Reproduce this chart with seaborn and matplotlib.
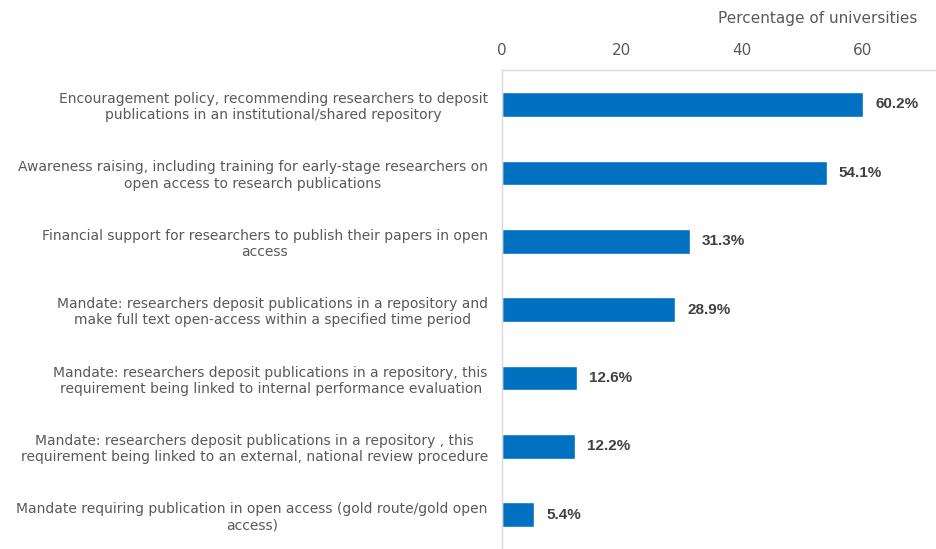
import matplotlib.pyplot as plt
import seaborn as sns
import pandas as pd

# data
categories = [
    "Encouragement policy, recommending researchers to deposit\npublications in an institutional/shared repository",
    "Awareness raising, including training for early-stage researchers on\nopen access to research publications",
    "Financial support for researchers to publish their papers in open\naccess",
    "Mandate: researchers deposit publications in a repository and\nmake full text open-access within a specified time period",
    "Mandate: researchers deposit publications in a repository, this\nrequirement being linked to internal performance evaluation",
    "Mandate: researchers deposit publications in a repository , this\nrequirement being linked to an external, national review procedure",
    "Mandate requiring publication in open access (gold route/gold open\naccess)",
]
values = [60.2, 54.1, 31.3, 28.9, 12.6, 12.2, 5.4]
ticks = [0, 20, 40, 60]

df = pd.DataFrame({"category": categories, "pct": values})

sns.set_style("white")
plt.rcParams["font.family"] = ["DejaVu Sans"]

fig = plt.figure(figsize=(9.36, 5.49), dpi=100)
ax = fig.add_axes([0.536, 0.0, 0.464, 0.872])

sns.barplot(data=df, x="pct", y="category", color="#0070C0", width=0.36,
            orient="h", ax=ax, saturation=1)

ax.set_xlim(0, 72.3)
ax.set_ylim(6.5, -0.5)
ax.set_xticks(ticks)
ax.xaxis.tick_top()
ax.xaxis.set_label_position("top")
ax.tick_params(axis="x", length=0, labelsize=11, colors="#595959", pad=9)

# category labels: lines centred on each other, block right-aligned
ax.set_yticks(range(len(categories)))
ax.set_yticklabels(categories, ha="right", multialignment="center")
ax.tick_params(axis="y", length=0, labelsize=10, colors="#595959", pad=10)

ax.set_xlabel("Percentage of universities", fontsize=11, color="#595959",
              labelpad=14, loc="right")
ax.xaxis.label.set_x(0.958)
ax.set_ylabel("")

for side in ["right", "bottom"]:
    ax.spines[side].set_visible(False)
for side in ["top", "left"]:
    ax.spines[side].set_color("#D9D9D9")
    ax.spines[side].set_linewidth(1)

for i, v in enumerate(values):
    ax.text(v + 2.0, i, f"{v}%", va="center", ha="left", fontsize=11,
            fontweight="bold", color="#404040", family="Liberation Sans")

fig.savefig("out.png", dpi=100)
